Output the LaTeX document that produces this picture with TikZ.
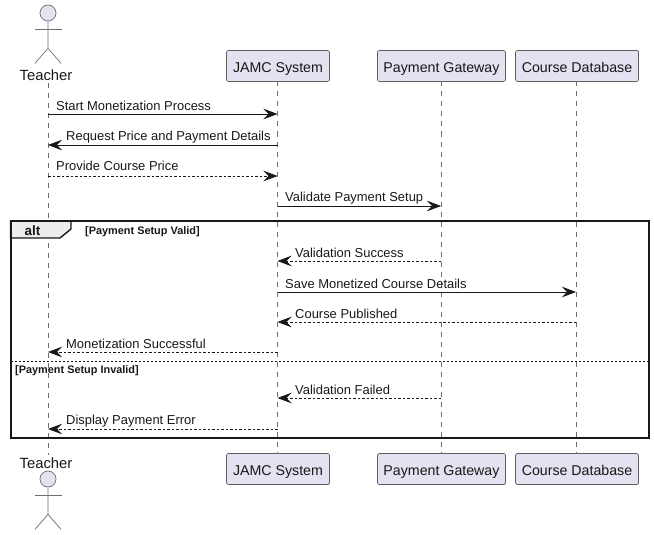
\documentclass[tikz,border=0pt]{standalone}
\usepackage{fontspec}
\setmainfont{Liberation Sans}
\usetikzlibrary{positioning,calc,arrows.meta}
\definecolor{Lilac}{HTML}{E2E2F0}
\definecolor{Ink}{HTML}{181818}
\definecolor{Life}{HTML}{6E6E6E}
\tikzset{
  party box/.style={draw=Ink!70,fill=Lilac,rounded corners=1.5pt,line width=.7pt,
    minimum height=31pt,inner xsep=0pt,inner ysep=0pt,text height=13pt,text depth=0pt,
    font=\fontsize{14.2}{16}\selectfont,text=Ink},
  actor label/.style={font=\fontsize{14.8}{16}\selectfont,text=Ink,inner sep=0pt},
  actor line/.style={draw=Life,line width=.7pt},
  actor head/.style={draw=Life,fill=Lilac,line width=.7pt,circle,minimum size=16pt,inner sep=0pt},
  life line/.style={draw=Life,line width=.7pt,dash pattern=on 5pt off 5pt},
  msg label/.style={font=\fontsize{12.95}{15}\selectfont,text=Ink,anchor=base west,inner sep=0pt},
  msg solid/.style={-{Stealth[inset=5pt,length=14pt,width=10.5pt]},draw=Ink,line width=.8pt},
  msg dashed/.style={msg solid,dash pattern=on 2.5pt off 2pt},
  alt frame/.style={draw=Ink,line width=2pt},
  guard label/.style={font=\fontsize{10.9}{12}\selectfont\bfseries,text=Ink,anchor=base west,inner sep=0pt}
}

\begin{document}
\begin{tikzpicture}[x=1pt,y=-1pt]
  \useasboundingbox (0,0) rectangle (654,535);
  % top row
  \node[party box,minimum width=103pt] (jamc) at (278,66) {JAMC System};
  \node[party box,minimum width=128pt] (gateway) at (441.5,66) {Payment Gateway};
  \node[party box,minimum width=123pt] (course) at (577,66) {Course Database};
  \node[actor label] (teacher) at (46,75) {Teacher};
  % bottom row
  \node[party box,minimum width=103pt] (jamcb) at (278,469) {JAMC System};
  \node[party box,minimum width=128pt] (gatewayb) at (441.5,469) {Payment Gateway};
  \node[party box,minimum width=123pt] (courseb) at (577,469) {Course Database};
  \node[actor label] (teacherb) at (46,463) {Teacher};
  % lifelines
  \coordinate (teachertop) at (48,83);
  \coordinate (teacherbot) at (48,455);
  \draw[life line] (teachertop) -- (teacherbot);
  \draw[life line] (277.5,81.5) -- (277.5,453.5);
  \draw[life line] (441,81.5) -- (441,453.5);
  \draw[life line] (576,81.5) -- (576,453.5);
  % actors
  \node[actor head] (headt) at (48,13) {};
  \node[actor head] (headb) at (48,479) {};
  \draw[actor line] (headt.south) -- ++(0,27) -- ++(-13,15) ++(13,-15) -- ++(13,15);
  \draw[actor line] (35,29) -- (62,29);
  \draw[actor line] (headb.south) -- ++(0,27) -- ++(-13,15) ++(13,-15) -- ++(13,15);
  \draw[actor line] (35,495) -- (62,495);
  % rows
  \foreach \row/\rowy in {1/114,2/145,3/176,4/206,5/261,6/292,7/322,8/352,9/398,10/429}{
    \coordinate (t\row) at (48,\rowy);
    \coordinate (j\row) at (277.5,\rowy);
    \coordinate (g\row) at (441,\rowy);
    \coordinate (c\row) at (576,\rowy);
  }
  % alt block
  \draw[alt frame,line width=1.4pt,fill=Ink!8] (10.5,221) -- (71,221) -- (71,229) -- (60,238) -- (10.5,238) -- cycle;
  \node[font=\fontsize{13.5}{15}\selectfont\bfseries,text=Ink,inner sep=0pt] (alttag) at (32.5,231) {alt};
  \node[guard label] (guardvalid) at (85,234) {[Payment Setup Valid]};
  \node[guard label] (guardinvalid) at (15,373) {[Payment Setup Invalid]};
  \draw[alt frame] (10.5,221) rectangle (649,437.5);
  \draw[draw=Ink,line width=.8pt,dash pattern=on 2pt off 2pt] (10.5,361) -- (649,361);
  % messages
  \node[msg label] (m1) at (56,110.5) {Start Monetization Process};
  \node[msg label] (m2) at (66,140) {Request Price and Payment Details};
  \node[msg label] (m3) at (56,171) {Provide Course Price};
  \node[msg label] (m4) at (285,201) {Validate Payment Setup};
  \node[msg label] (m5) at (295,257) {Validation Success};
  \node[msg label] (m6) at (285,288) {Save Monetized Course Details};
  \node[msg label] (m7) at (295,318) {Course Published};
  \node[msg label] (m8) at (66,348) {Monetization Successful};
  \node[msg label] (m9) at (295,394) {Validation Failed};
  \node[msg label] (m10) at (66,424) {Display Payment Error};
  \draw[msg solid] (t1) -- (j1);
  \draw[msg solid] (j2) -- (t2);
  \draw[msg dashed] (t3) -- (j3);
  \draw[msg solid] (j4) -- (g4);
  \draw[msg dashed] (g5) -- (j5);
  \draw[msg solid] (j6) -- (c6);
  \draw[msg dashed] (c7) -- (j7);
  \draw[msg dashed] (j8) -- (t8);
  \draw[msg dashed] (g9) -- (j9);
  \draw[msg dashed] (j10) -- (t10);
\end{tikzpicture}
\end{document}
